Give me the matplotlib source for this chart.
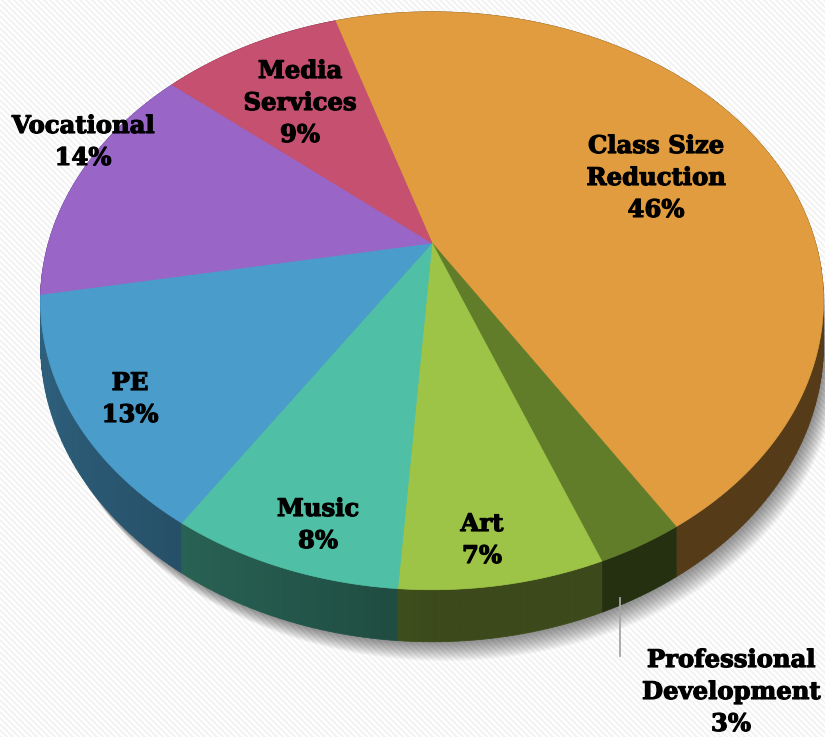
import numpy as np
import matplotlib
matplotlib.use("Agg")
import matplotlib.pyplot as plt
import matplotlib.patheffects as pe
from matplotlib.patches import Polygon

# ---- data (clockwise from the top) ----
labels = ["Class Size\nReduction", "Professional\nDevelopment", "Art", "Music",
          "PE", "Vocational", "Media\nServices"]
shares = [46, 3, 7, 8, 13, 14, 9]
colors = ["#E09C3E", "#627D2A", "#9DC447", "#4FC0A5", "#4A9CCB", "#9966C8", "#C5506F"]

# label anchor (pixel coords) per slice
label_xy = [(656, 178), (731, 692), (482, 540), (318, 525), (130, 399), (83, 142), (300, 103)]

# ---- perspective projection of a unit disk into pixel space ----
CX, CY = 432, 243
A, B, K = 383.6, 277.4, 0.2
H = 41.6           # thickness at the centre depth
START = -17.5      # angle of first boundary, degrees clockwise from the back


def proj(theta, r=1.0):
    t = np.radians(theta)
    x = r * np.sin(t)
    y = -r * np.cos(t)
    s = 1.0 / (1.0 - K * y)
    return CX + A * x * s, CY + B * y * s, s, x, y


def shade(hexcol, f):
    rgb = np.array(matplotlib.colors.to_rgb(hexcol))
    return tuple(np.clip(rgb * f, 0, 1))


fig = plt.figure(figsize=(8.25, 7.37), dpi=100)
ax = fig.add_axes([0, 0, 1, 1])
ax.set_xlim(0, 825)
ax.set_ylim(737, 0)
ax.axis("off")

# faint diagonal background hatch
for c in range(-760, 830, 6):
    ax.plot([c, c + 737], [0, 737], color="#f1f1f1", lw=1.2, zorder=0)

# slice boundaries
bounds = START + 3.6 * np.concatenate([[0], np.cumsum(shares)])

# soft shadow under the pie
th_all = np.linspace(0, 360, 361)
px, py, ps, _, _ = proj(th_all)
for i in range(16, 0, -1):
    ax.add_patch(Polygon(np.column_stack([px + i * 0.8, py + H * ps + i * 1.2]),
                         closed=True, fc="#000000", ec="none", alpha=0.03, zorder=1))

# side walls, drawn back-to-front
segs = []
for k, col in enumerate(colors):
    th = np.linspace(bounds[k], bounds[k + 1], max(int((bounds[k + 1] - bounds[k]) / 1.0), 2) + 1)
    for a0, a1 in zip(th[:-1], th[1:]):
        x0, y0, s0, u0, v0 = proj(a0)
        x1, y1, s1, u1, v1 = proj(a1)
        depth = 0.5 * (v0 + v1)
        u = 0.5 * (u0 + u1)
        f = 0.38 + 0.24 * max(0.0, -u)
        segs.append((depth, [(x0, y0), (x1, y1), (x1, y1 + H * s1), (x0, y0 + H * s0)],
                     shade(col, f)))
segs.sort(key=lambda z: z[0])
for _, pts, fc in segs:
    ax.add_patch(Polygon(pts, closed=True, fc=fc, ec=fc, lw=0.6, zorder=2))

# top faces
for k, col in enumerate(colors):
    th = np.linspace(bounds[k], bounds[k + 1], 200)
    x, y, _, _, _ = proj(th)
    pts = np.vstack([[CX, CY], np.column_stack([x, y])])
    ax.add_patch(Polygon(pts, closed=True, fc=col, ec=col, lw=0.5, zorder=3))

# labels
heavy = [pe.withStroke(linewidth=0.8, foreground="black")]
for k, (lab, v) in enumerate(zip(labels, shares)):
    lx, ly = label_xy[k]
    ax.text(lx, ly, f"{lab}\n{v}%", ha="center", va="center", family="DejaVu Serif",
            fontweight="bold", fontsize=17.5, linespacing=1.42, color="black",
            path_effects=heavy, zorder=5)

# leader line for the small slice
ax.plot([620, 620], [598, 656], color="#a6a6a6", lw=1.3, zorder=4)

fig.savefig("out.png", dpi=100)
